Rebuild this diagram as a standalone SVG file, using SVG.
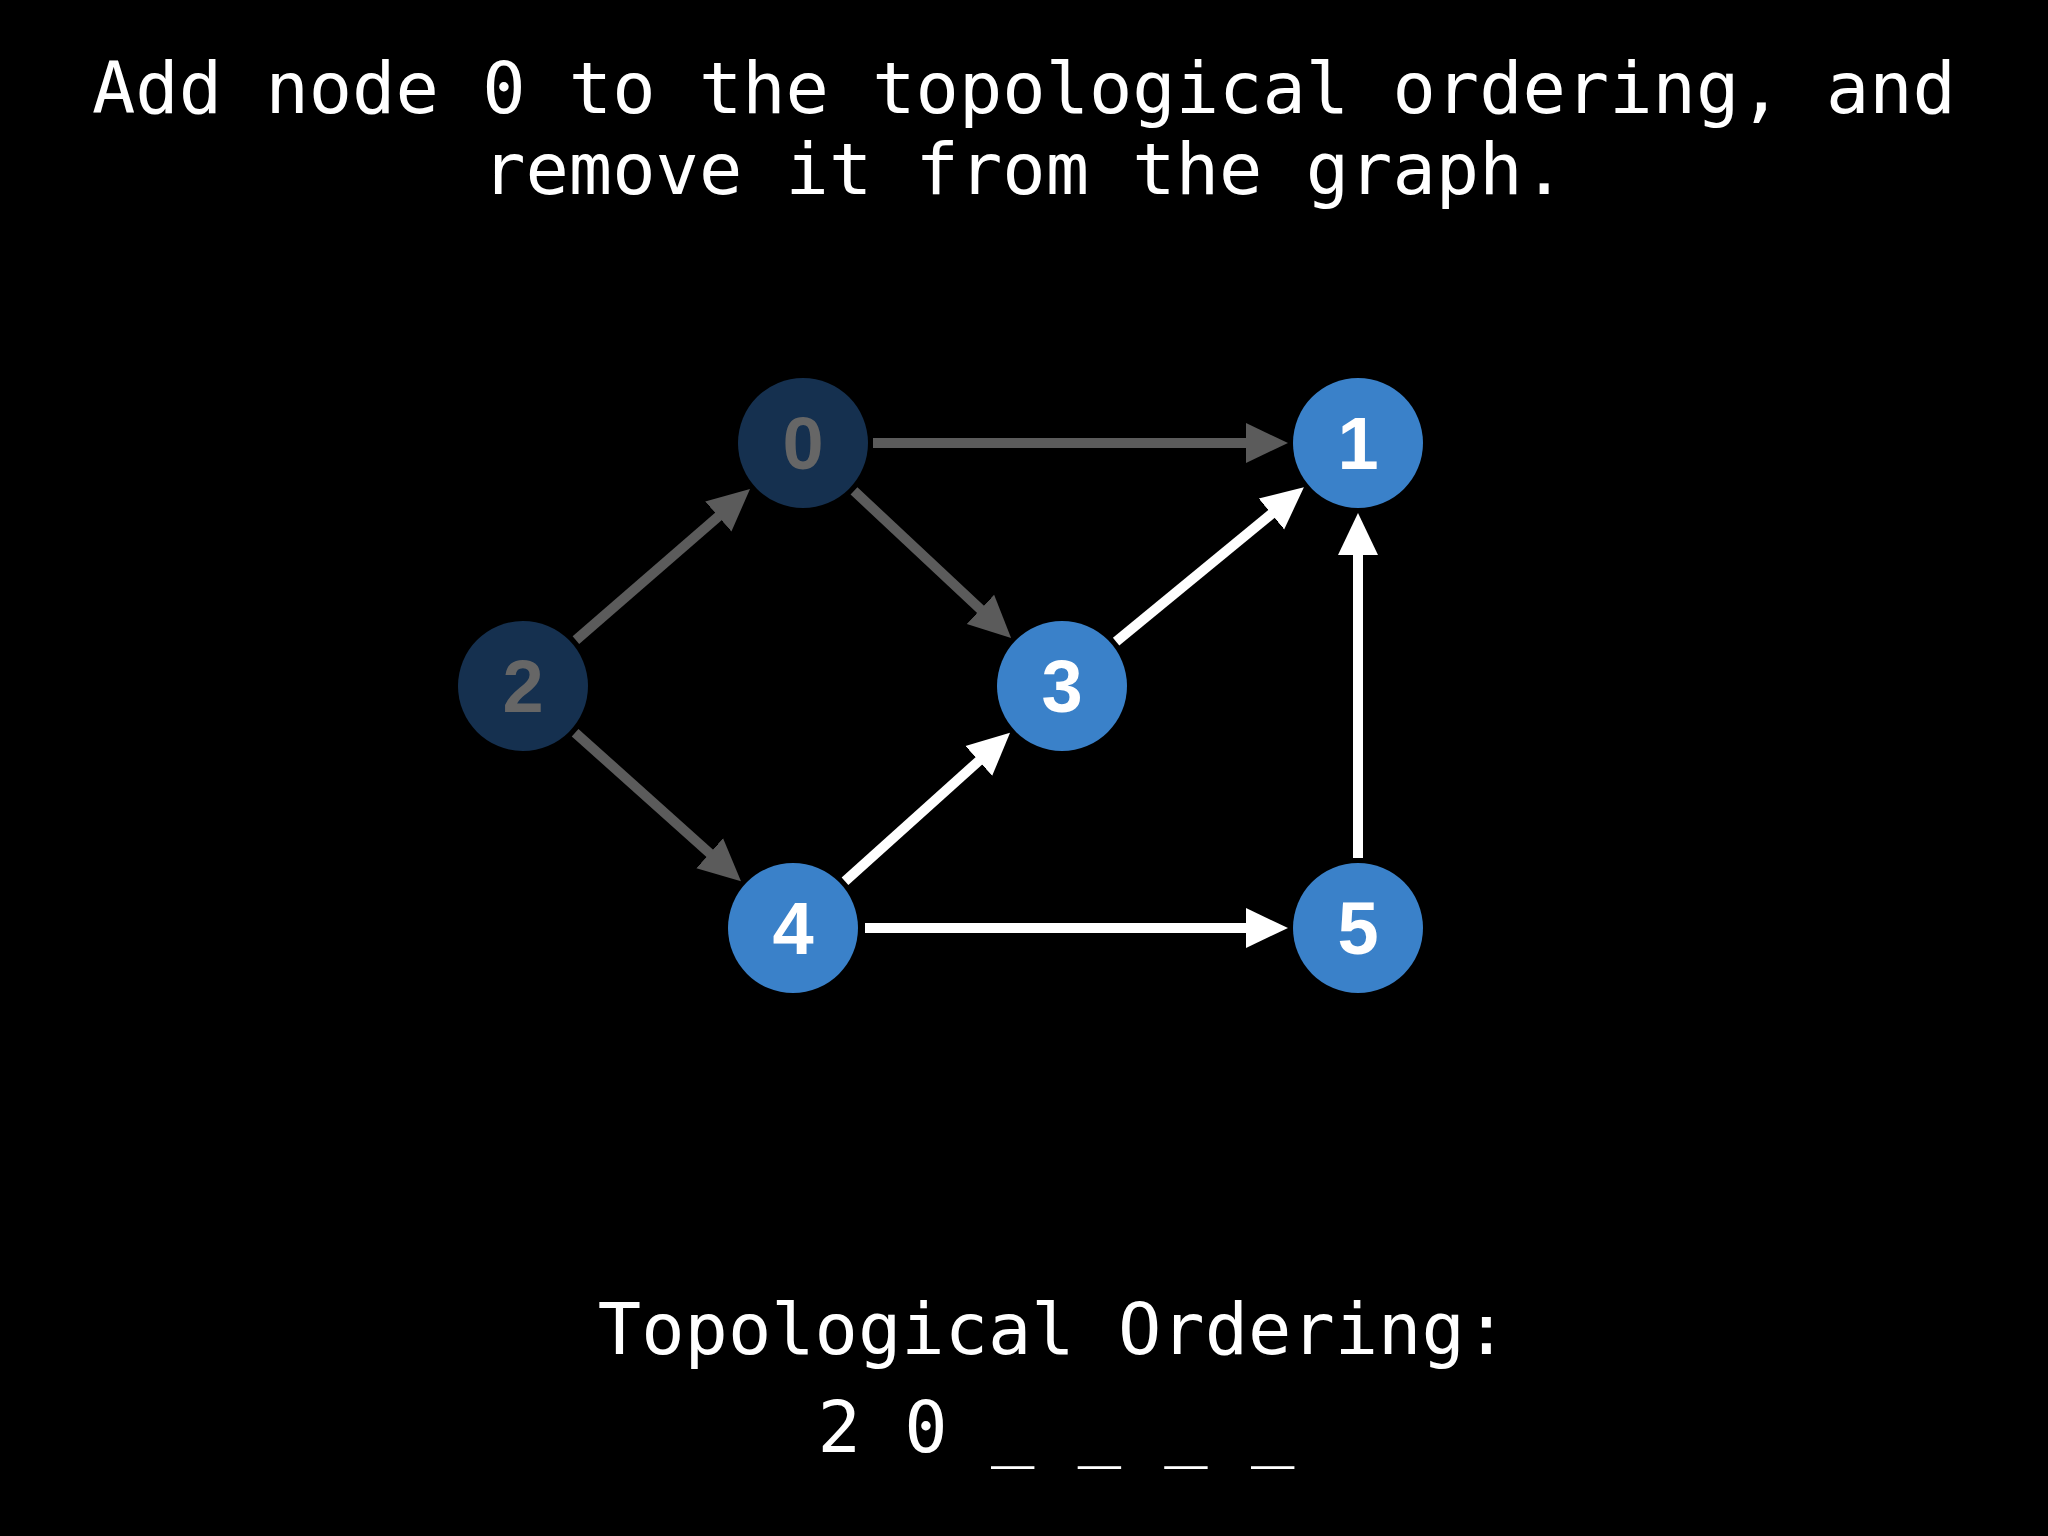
<svg xmlns="http://www.w3.org/2000/svg" width="2048" height="1536" viewBox="0 0 2048 1536">
<defs>
<style>
.t{font-family:"DejaVu Sans Mono",monospace;font-size:72px;fill:#ffffff;text-anchor:middle}
.n{font-family:"Liberation Sans",Arial,sans-serif;font-weight:bold;font-size:74px;text-anchor:middle}
.blue circle{fill:#3a81c9}
.blue text{fill:#ffffff}
.dim circle{fill:#15304f}
.dim text{fill:#666666}
.eg{stroke:#5b5b5b;stroke-width:10;fill:none}
.ew{stroke:#ffffff;stroke-width:10;fill:none}
</style>
<marker id="ag" markerUnits="userSpaceOnUse" markerWidth="44" markerHeight="44" viewBox="0 -22 44 44" refX="2" refY="0" orient="auto"><path d="M0,-20 L42,0 L0,20 z" fill="#5b5b5b"/></marker>
<marker id="aw" markerUnits="userSpaceOnUse" markerWidth="44" markerHeight="44" viewBox="0 -22 44 44" refX="2" refY="0" orient="auto"><path d="M0,-20 L42,0 L0,20 z" fill="#ffffff"/></marker>
</defs>
<rect width="2048" height="1536" fill="#000000"/>
<text class="t" x="1024" y="113">Add node 0 to the topological ordering, and</text>
<text class="t" x="1024" y="194">remove it from the graph.</text>
<g id="connectors">
<line class="eg" x1="873" y1="443" x2="1248" y2="443" marker-end="url(#ag)"/>
<line class="eg" x1="575.9" y1="640.1" x2="719.8" y2="515.2" marker-end="url(#ag)"/>
<line class="eg" x1="854" y1="490.9" x2="981.9" y2="610.7" marker-end="url(#ag)"/>
<line class="eg" x1="575.1" y1="732.7" x2="711.2" y2="854.6" marker-end="url(#ag)"/>
<line class="ew" x1="1116.1" y1="641.6" x2="1273" y2="512.7" marker-end="url(#aw)"/>
<line class="ew" x1="845" y1="881.2" x2="980.3" y2="759.6" marker-end="url(#aw)"/>
<line class="ew" x1="865" y1="928" x2="1248" y2="928" marker-end="url(#aw)"/>
<line class="ew" x1="1358" y1="858" x2="1358" y2="553" marker-end="url(#aw)"/>
</g>
<g id="node0" class="dim"><circle cx="803" cy="443" r="65"/><text class="n" x="803" y="469">0</text></g>
<g id="node1" class="blue"><circle cx="1358" cy="443" r="65"/><text class="n" x="1358" y="469">1</text></g>
<g id="node2" class="dim"><circle cx="523" cy="686" r="65"/><text class="n" x="523" y="712">2</text></g>
<g id="node3" class="blue"><circle cx="1062" cy="686" r="65"/><text class="n" x="1062" y="712">3</text></g>
<g id="node4" class="blue"><circle cx="793" cy="928" r="65"/><text class="n" x="793" y="954">4</text></g>
<g id="node5" class="blue"><circle cx="1358" cy="928" r="65"/><text class="n" x="1358" y="954">5</text></g>
<text class="t" x="1053" y="1354">Topological Ordering:</text>
<text class="t" x="1056" y="1452">2 0 _ _ _ _</text>
</svg>
